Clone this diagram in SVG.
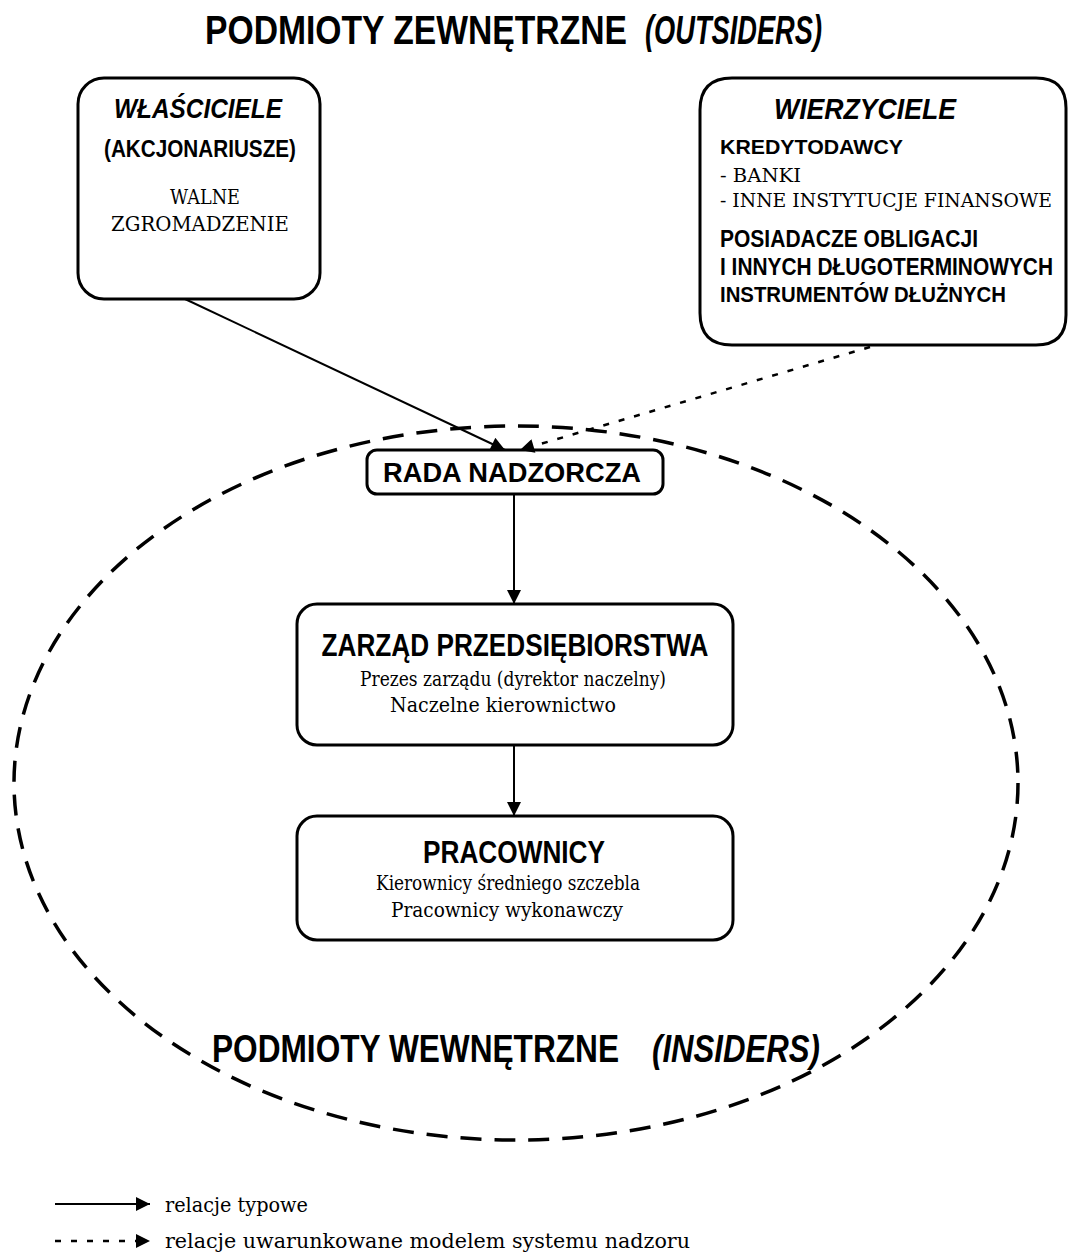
<svg xmlns="http://www.w3.org/2000/svg" width="1068" height="1253" viewBox="0 0 1068 1253">
<defs>
<style>
.box{fill:#fff;stroke:#000;stroke-width:3}
.h{font-family:"Liberation Sans",Arial,sans-serif;font-weight:bold;fill:#000}
.hi{font-family:"Liberation Sans",Arial,sans-serif;font-weight:bold;font-style:italic;fill:#000}
.s{font-family:"DejaVu Serif","Liberation Serif",serif;fill:#000}
.c{text-anchor:middle}
.ln{fill:none;stroke:#000;stroke-width:2}
.dot{fill:none;stroke:#000;stroke-width:2.5;stroke-dasharray:6 10}
</style>
<marker id="ah" viewBox="0 0 10 10" refX="10" refY="5" markerWidth="16" markerHeight="14" markerUnits="userSpaceOnUse" orient="auto">
<path d="M0,0 L10,5 L0,10 Z" fill="#000"/>
</marker>
</defs>
<rect width="1068" height="1253" fill="#fff"/>
<text class="h" transform="translate(205,44) scale(1,1.2)" font-size="33.6" textLength="422" lengthAdjust="spacingAndGlyphs">PODMIOTY ZEWNĘTRZNE</text>
<text class="hi" transform="translate(645,44) scale(1,1.2)" font-size="33.6" textLength="177" lengthAdjust="spacingAndGlyphs">(OUTSIDERS)</text>
<ellipse id="insiders" cx="516" cy="783" rx="502" ry="357" fill="none" stroke="#000" stroke-width="3.5" stroke-dasharray="21 13"/>
<g id="wlasciciele">
<rect class="box" x="78" y="78" width="242" height="221" rx="26"/>
<text class="hi c" transform="translate(198,118) scale(1,1.15)" font-size="24.4" textLength="168" lengthAdjust="spacingAndGlyphs">WŁAŚCICIELE</text>
<text class="h c" transform="translate(200,157) scale(1,1.15)" font-size="20.7" textLength="192" lengthAdjust="spacingAndGlyphs">(AKCJONARIUSZE)</text>
<text class="s c" x="205" y="204" font-size="21" textLength="70" lengthAdjust="spacingAndGlyphs">WALNE</text>
<text class="s c" x="200" y="231" font-size="21" textLength="178" lengthAdjust="spacingAndGlyphs">ZGROMADZENIE</text>
</g>
<g id="wierzyciele">
<path class="box" d="M732,78 H1036 Q1066,78 1066,108 V315 Q1066,345 1036,345 H732 Q700,345 700,313 V110 Q700,78 732,78 Z"/>
<text class="hi c" transform="translate(865,119) scale(1,1.1)" font-size="26.6" textLength="182" lengthAdjust="spacingAndGlyphs">WIERZYCIELE</text>
<text class="h" x="720" y="154" font-size="21" textLength="183" lengthAdjust="spacingAndGlyphs">KREDYTODAWCY</text>
<text class="s" x="720" y="182" font-size="19" textLength="81" lengthAdjust="spacingAndGlyphs">- BANKI</text>
<text class="s" x="720" y="207" font-size="19" textLength="332" lengthAdjust="spacingAndGlyphs">- INNE INSTYTUCJE FINANSOWE</text>
<text class="h" transform="translate(720,247) scale(1,1.1)" font-size="21" textLength="258" lengthAdjust="spacingAndGlyphs">POSIADACZE OBLIGACJI</text>
<text class="h" transform="translate(720,275) scale(1,1.1)" font-size="20.9" textLength="333" lengthAdjust="spacingAndGlyphs">I INNYCH DŁUGOTERMINOWYCH</text>
<text class="h" transform="translate(720,302) scale(1,1.1)" font-size="20.5" textLength="286" lengthAdjust="spacingAndGlyphs">INSTRUMENTÓW DŁUŻNYCH</text>
</g>
<g id="rada">
<rect class="box" x="367" y="450" width="296" height="44" rx="10"/>
<text class="h c" x="512" y="482" font-size="27" textLength="258" lengthAdjust="spacingAndGlyphs">RADA NADZORCZA</text>
</g>
<g id="zarzad">
<rect class="box" x="297" y="604" width="436" height="141" rx="20"/>
<text class="h c" transform="translate(515,656) scale(1,1.22)" font-size="26.1" textLength="387" lengthAdjust="spacingAndGlyphs">ZARZĄD PRZEDSIĘBIORSTWA</text>
<text class="s c" x="513" y="686" font-size="20" textLength="306" lengthAdjust="spacingAndGlyphs">Prezes zarządu (dyrektor naczelny)</text>
<text class="s c" x="503" y="712" font-size="20" textLength="226" lengthAdjust="spacingAndGlyphs">Naczelne kierownictwo</text>
</g>
<g id="pracownicy">
<rect class="box" x="297" y="816" width="436" height="124" rx="20"/>
<text class="h c" transform="translate(514,863) scale(1,1.22)" font-size="26.2" textLength="182" lengthAdjust="spacingAndGlyphs">PRACOWNICY</text>
<text class="s c" x="508" y="890" font-size="20" textLength="264" lengthAdjust="spacingAndGlyphs">Kierownicy średniego szczebla</text>
<text class="s c" x="507" y="917" font-size="20" textLength="232" lengthAdjust="spacingAndGlyphs">Pracownicy wykonawczy</text>
</g>
<text class="h" transform="translate(212,1062) scale(1,1.25)" font-size="31.6" textLength="407" lengthAdjust="spacingAndGlyphs">PODMIOTY WEWNĘTRZNE</text>
<text class="hi" transform="translate(652,1062) scale(1,1.25)" font-size="31.2" textLength="168" lengthAdjust="spacingAndGlyphs">(INSIDERS)</text>
<g id="connectors">
<line class="ln" x1="185" y1="299" x2="505" y2="450" marker-end="url(#ah)"/>
<line class="dot" x1="870" y1="347" x2="520" y2="450" marker-end="url(#ah)"/>
<line class="ln" x1="514" y1="494" x2="514" y2="604" marker-end="url(#ah)"/>
<line class="ln" x1="514" y1="745" x2="514" y2="816" marker-end="url(#ah)"/>
</g>
<g id="legend">
<line class="ln" x1="55" y1="1204" x2="150" y2="1204" marker-end="url(#ah)"/>
<line class="dot" x1="55" y1="1241" x2="150" y2="1241" marker-end="url(#ah)"/>
<text class="s" x="165" y="1212" font-size="20" textLength="143" lengthAdjust="spacingAndGlyphs">relacje typowe</text>
<text class="s" x="165" y="1248" font-size="20" textLength="525" lengthAdjust="spacingAndGlyphs">relacje uwarunkowane modelem systemu nadzoru</text>
</g>
</svg>
